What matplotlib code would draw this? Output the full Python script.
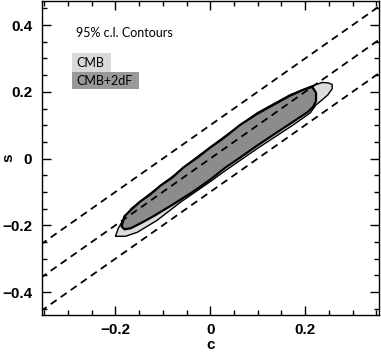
import numpy as np
import matplotlib
matplotlib.use("Agg")
from matplotlib import pyplot as plt
from matplotlib.patches import Polygon, Rectangle
from matplotlib.ticker import MultipleLocator, FuncFormatter

# 95% c.l. contour outlines (c, s)
cmb_c = [-0.200, -0.194, -0.183, -0.166, -0.126, -0.080, -0.027, 0.027, 0.099, 0.168,
         0.215, 0.236, 0.248, 0.257, 0.257, 0.248, 0.236, 0.223, 0.211, 0.173,
         0.099, 0.032, 0.000, -0.063, -0.112, -0.154, -0.179]
cmb_s = [-0.233, -0.209, -0.182, -0.149, -0.104, -0.054, 0.006, 0.063, 0.137, 0.191,
         0.218, 0.228, 0.227, 0.222, 0.209, 0.191, 0.176, 0.161, 0.137, 0.099,
         0.030, -0.036, -0.069, -0.131, -0.185, -0.221, -0.233]

cmb2df_c = [-0.187, -0.181, -0.166, -0.147, -0.126, -0.105, -0.080, -0.057, -0.027, 0.000,
            0.027, 0.063, 0.099, 0.137, 0.168, 0.196, 0.215, 0.223, 0.223, 0.217,
            0.206, 0.168, 0.137, 0.099, 0.063, 0.032, 0.000, -0.036, -0.078, -0.120,
            -0.147, -0.168, -0.181]
cmb2df_s = [-0.203, -0.173, -0.152, -0.128, -0.107, -0.081, -0.057, -0.027, 0.003, 0.033,
            0.060, 0.101, 0.134, 0.164, 0.188, 0.206, 0.215, 0.197, 0.173, 0.155,
            0.140, 0.104, 0.075, 0.039, 0.003, -0.027, -0.063, -0.099, -0.137, -0.173,
            -0.194, -0.209, -0.212]

# dashed reference lines s = c + offset
line_slope = 1.0
line_offsets = [-0.1, 0.0, 0.1]

fig = plt.figure(figsize=(3.81, 3.54), dpi=100)
ax = fig.add_axes([0.110, 0.110, 0.885, 0.887])

light = Polygon(np.column_stack([cmb_c, cmb_s]), closed=True, facecolor="#dcdcdc",
                edgecolor="black", linewidth=1.0, zorder=2)
dark = Polygon(np.column_stack([cmb2df_c, cmb2df_s]), closed=True, facecolor="#8c8c8c",
               edgecolor="black", linewidth=1.6, zorder=3)
ax.add_patch(light)
ax.add_patch(dark)

xs = np.array([-0.4, 0.4])
for b in line_offsets:
    ax.plot(xs, line_slope * xs + b, color="black", linestyle=(0, (4, 2.8)), linewidth=1.3, zorder=4)

ax.set_xlim(-0.355, 0.356)
ax.set_ylim(-0.469, 0.472)

fmt = FuncFormatter(lambda v, p: "0" if abs(v) < 1e-9 else f"{v:.1f}".replace("-", "\u2212"))
ax.xaxis.set_major_locator(MultipleLocator(0.2))
ax.xaxis.set_minor_locator(MultipleLocator(0.05))
ax.yaxis.set_major_locator(MultipleLocator(0.2))
ax.yaxis.set_minor_locator(MultipleLocator(0.05))
ax.xaxis.set_major_formatter(fmt)
ax.yaxis.set_major_formatter(fmt)
ax.tick_params(which="both", direction="in", top=True, right=True, width=1.0)
ax.tick_params(which="major", length=6.5, labelsize=11)
ax.tick_params(axis="y", which="major", pad=7)
ax.tick_params(axis="x", which="major", pad=6)
ax.tick_params(which="minor", length=3.5)
for lab in ax.get_xticklabels() + ax.get_yticklabels():
    lab.set_fontweight("bold")
    lab.set_family("Liberation Sans")
for sp in ax.spines.values():
    sp.set_linewidth(1.0)

ax.set_xlabel("c", fontsize=11, fontweight="bold", family="Liberation Sans", va="center")
ax.set_ylabel("s", fontsize=11, fontweight="bold", family="Liberation Sans", va="center")
ax.xaxis.set_label_coords(0.5, -0.096)
ax.yaxis.set_label_coords(-0.10, 0.5)

# legend-like labels
ax.text(0.101, 0.898, "95% c.l. Contours", transform=ax.transAxes, fontsize=9,
        family="Lato", va="center", ha="left")
ax.add_patch(Rectangle((0.089, 0.774), 0.116, 0.060, transform=ax.transAxes,
                       facecolor="#d9d9d9", edgecolor="none", zorder=5))
ax.add_patch(Rectangle((0.089, 0.720), 0.199, 0.054, transform=ax.transAxes,
                       facecolor="#999999", edgecolor="none", zorder=5))
ax.text(0.101, 0.804, "CMB", transform=ax.transAxes, fontsize=9, family="Lato",
        va="center", ha="left", zorder=6)
ax.text(0.101, 0.747, "CMB+2dF", transform=ax.transAxes, fontsize=9, family="Lato",
        va="center", ha="left", zorder=6)

fig.savefig("out.png", dpi=100)
